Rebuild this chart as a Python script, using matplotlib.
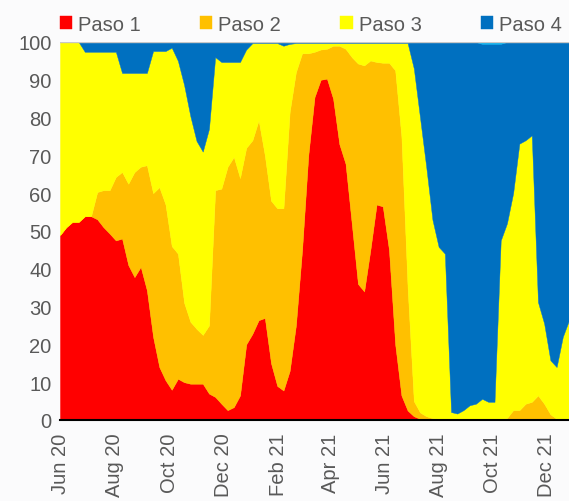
import matplotlib
matplotlib.use("Agg")
import matplotlib.dates as mdates
import matplotlib.pyplot as plt
import pandas as pd

# Weekly shares (%) of the population in each step
start_date = "2020-05-31"

paso1 = [48.9, 51.0, 52.4, 52.4, 53.9, 53.9, 53.1, 51.0, 49.3, 47.5,
         48.0, 41.0, 37.8, 40.5, 34.3, 22.0, 14.0, 10.5, 8.0, 10.9,
         10.0, 9.6, 9.6, 9.6, 7.0, 6.1, 4.3, 2.6, 3.4, 6.5,
         20.0, 22.8, 26.4, 27.0, 15.0, 9.0, 7.8, 13.0, 25.0, 45.0,
         70.0, 85.4, 90.0, 90.3, 85.0, 73.0, 67.8, 52.0, 36.0, 34.0,
         45.0, 57.0, 56.5, 45.0, 20.0, 6.5, 2.5, 1.0, 0.3, 0.0,
         0.0, 0.0, 0.0, 0.0, 0.0, 0.0, 0.0, 0.0, 0.0, 0.0,
         0.0, 0.0, 0.0, 0.0, 0.0, 0.0, 0.0, 0.0, 0.0, 0.0,
         0.0, 0.0, 0.0]
paso2 = [0.0, 0.0, 0.0, 0.0, 0.0, 0.0, 7.2, 9.8, 11.5, 16.8,
         17.6, 21.5, 27.8, 26.5, 33.1, 38.0, 47.6, 46.5, 38.0, 33.1,
         21.0, 16.4, 14.5, 12.9, 18.0, 54.7, 56.9, 64.4, 66.2, 57.5,
         52.0, 51.2, 52.9, 43.0, 43.0, 47.0, 48.2, 68.5, 67.0, 52.0,
         27.0, 12.0, 8.0, 7.9, 14.0, 26.0, 30.4, 44.0, 58.3, 59.8,
         50.1, 37.7, 38.0, 49.5, 72.5, 68.5, 32.5, 4.0, 1.7, 1.0,
         0.5, 0.3, 0.2, 0.2, 0.2, 0.2, 0.2, 0.2, 0.2, 0.2,
         0.2, 0.3, 0.5, 2.6, 2.6, 4.3, 4.8, 6.5, 4.3, 1.5,
         0.3, 0.0, 0.0]
paso3 = [51.1, 49.0, 47.6, 47.6, 43.5, 43.5, 37.1, 36.6, 36.6, 33.1,
         26.2, 29.3, 26.2, 24.8, 24.4, 37.6, 36.0, 40.6, 52.5, 51.0,
         57.6, 54.4, 49.7, 48.5, 52.0, 35.2, 33.5, 27.7, 25.1, 30.7,
         26.0, 25.7, 20.4, 29.7, 41.7, 43.7, 43.0, 18.0, 7.7, 2.7,
         2.7, 2.3, 1.7, 1.5, 0.7, 0.7, 1.5, 3.7, 5.4, 5.9,
         4.6, 5.0, 5.2, 5.2, 7.2, 24.7, 64.7, 88.0, 78.0, 66.0,
         52.5, 45.5, 43.8, 1.9, 1.5, 2.4, 3.7, 4.1, 5.4, 4.6,
         4.6, 47.2, 51.5, 57.4, 70.5, 69.7, 70.5, 24.7, 21.2, 14.3,
         13.7, 22.0, 26.4]
paso4 = [0.0, 0.0, 0.0, 0.0, 2.6, 2.6, 2.6, 2.6, 2.6, 2.6,
         8.2, 8.2, 8.2, 8.2, 8.2, 2.4, 2.4, 2.4, 1.5, 5.0,
         11.4, 19.6, 26.2, 29.0, 23.0, 4.0, 5.3, 5.3, 5.3, 5.3,
         2.0, 0.3, 0.3, 0.3, 0.3, 0.3, 1.0, 0.5, 0.3, 0.3,
         0.3, 0.3, 0.3, 0.3, 0.3, 0.3, 0.3, 0.3, 0.3, 0.3,
         0.3, 0.3, 0.3, 0.3, 0.3, 0.3, 0.3, 7.0, 20.0, 33.0,
         47.0, 54.2, 56.0, 97.9, 98.3, 97.4, 96.1, 95.7, 93.9, 94.7,
         94.7, 52.0, 48.0, 40.0, 26.9, 26.0, 24.7, 68.8, 74.5, 84.2,
         86.0, 78.0, 73.6]
# small unlabelled share shown as a light-blue sliver at the top
paso5 = [0.0] * 68 + [0.5, 0.5, 0.5, 0.5] + [0.0] * 11

labels = ["Paso 1", "Paso 2", "Paso 3", "Paso 4", "_nolegend_"]
colors = ["#FF0000", "#FFC000", "#FFFF00", "#0070C0", "#00B0F0"]

dates = pd.date_range(start_date, periods=len(paso1), freq="7D")

plt.rcParams["font.family"] = ["Liberation Sans", "DejaVu Sans"]
bg = "#fbfbfc"
text_color = "#595959"
fsize = 14.5

fig = plt.figure(figsize=(5.69, 5.02), dpi=100, facecolor=bg)
ax = fig.add_axes([0.1054, 0.1614, 0.8946, 0.753])
ax.set_facecolor(bg)

ax.stackplot(dates, paso1, paso2, paso3, paso4, paso5,
             labels=labels, colors=colors, edgecolor="face", linewidth=0.3)

ax.set_xlim(dates[0], dates[-1])
ax.set_ylim(0, 100)
ax.set_yticks(range(0, 101, 10))
ax.axhline(100, color="#c8c8c8", linewidth=1)

ax.xaxis.set_major_locator(mdates.MonthLocator(bymonth=[2, 4, 6, 8, 10, 12]))
ax.xaxis.set_major_formatter(mdates.DateFormatter("%b %y"))
ax.tick_params(axis="x", labelrotation=90, length=0, pad=9,
               labelsize=fsize, labelcolor=text_color)
ax.tick_params(axis="y", length=0, pad=6, labelsize=fsize, labelcolor=text_color)
for lab in ax.get_xticklabels():
    lab.set_verticalalignment("top")

for side in ["top", "right", "left"]:
    ax.spines[side].set_visible(False)
ax.spines["bottom"].set_color("black")
ax.spines["bottom"].set_linewidth(1.5)

ax.legend(loc="lower left", bbox_to_anchor=(-0.016, 1.0), ncol=4, frameon=False,
          fontsize=fsize, labelcolor=text_color, handlelength=0.6, handleheight=0.6,
          handletextpad=0.3, columnspacing=2.95, borderaxespad=0.3, borderpad=0.1)

fig.savefig("out.png", dpi=100, facecolor=bg)
